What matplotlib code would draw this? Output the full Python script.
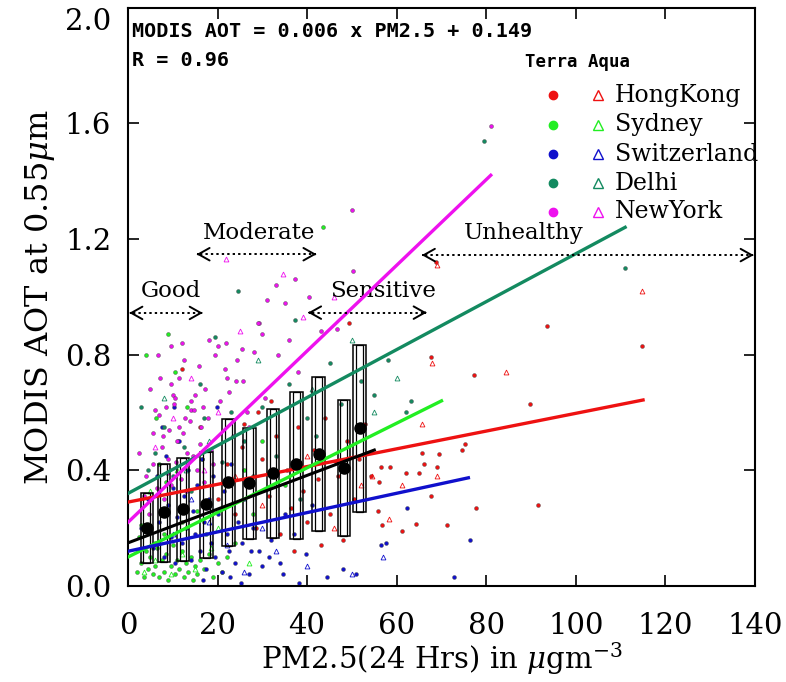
import matplotlib
matplotlib.use("Agg")
import matplotlib.pyplot as plt
from matplotlib.patches import Rectangle

plt.rcParams['font.family'] = 'DejaVu Serif'
plt.rcParams['mathtext.fontset'] = 'dejavuserif'

cities = ["HongKong", "Sydney", "Switzerland", "Delhi", "NewYork"]
colors = ["#ee1111", "#22ee22", "#1010cc", "#138a60", "#ee11ee"]

# Terra points (PM2.5, AOT)
hk_x = [93.6, 114.7, 67.7, 77.2, 89.8, 56.4, 58.5, 62.0, 65.0, 66.0, 69.0, 65.7, 69.4, 74.6, 75.3,
        56.0, 54.2, 55.8, 56.8, 61.2, 64.4, 67.7, 71.3, 77.8, 91.5, 68.7, 49.4, 20.0, 22.0, 24.0,
        25.5, 27.0, 28.5, 30.0, 31.5, 33.0, 34.0, 35.5, 36.5, 38.0, 39.0, 40.0, 41.5, 42.5, 44.0,
        45.0, 46.5, 48.0, 49.0, 50.5, 51.5, 53.0, 12.0, 16.0, 29.0, 43.0, 47.0, 37.0, 26.0, 32.0]
hk_y = [0.90, 0.83, 0.79, 0.73, 0.63, 0.41, 0.41, 0.39, 0.39, 0.42, 0.41, 0.46, 0.455, 0.47, 0.49,
        0.36, 0.38, 0.26, 0.21, 0.19, 0.215, 0.31, 0.21, 0.27, 0.28, 1.12, 0.91, 0.30, 0.42, 0.25,
        0.48, 0.36, 0.20, 0.44, 0.31, 0.52, 0.18, 0.40, 0.27, 0.55, 0.33, 0.22, 0.47, 0.37, 0.58,
        0.25, 0.43, 0.16, 0.50, 0.30, 0.44, 0.56, 0.75, 0.55, 0.60, 0.14, 0.38, 0.12, 0.56, 0.64]

sy_x = [2.0, 2.8, 3.5, 4.0, 4.5, 5.0, 5.5, 6.0, 6.5, 7.0, 7.5, 8.0, 8.5, 9.0, 9.5, 10.0, 10.5,
        11.0, 11.5, 12.0, 12.5, 13.0, 13.5, 14.0, 14.5, 15.0, 15.5, 16.0, 17.0, 18.0, 19.0, 20.0,
        21.0, 22.0, 3.0, 5.0, 6.2, 7.0, 8.5, 9.0, 10.5, 11.2, 13.2, 15.5, 4.0, 6.0, 17.5, 12.0,
        24.0, 26.0, 43.5, 30.0, 8.0, 2.5, 16.5, 28.0, 35.0]
sy_y = [0.05, 0.08, 0.03, 0.12, 0.06, 0.10, 0.04, 0.07, 0.13, 0.03, 0.09, 0.05, 0.11, 0.02, 0.07,
        0.14, 0.04, 0.09, 0.06, 0.12, 0.03, 0.08, 0.05, 0.10, 0.02, 0.07, 0.04, 0.09, 0.06, 0.11,
        0.03, 0.08, 0.05, 0.10, 0.21, 0.30, 0.58, 0.42, 0.36, 0.87, 0.74, 0.50, 0.62, 0.26, 0.80,
        0.15, 0.18, 0.22, 0.15, 0.40, 1.24, 0.50, 0.18, 0.17, 0.44, 0.25, 0.35]

sw_x = [62.2, 57.7, 56.4, 76.3, 72.9, 39.7, 33.9, 38.2, 34.7, 29.3, 31.5, 25.2, 27.0, 44.5, 48.0,
        51.0, 3.0, 4.5, 5.5, 6.5, 7.0, 8.0, 8.5, 9.0, 9.5, 10.0, 10.5, 11.0, 11.5, 12.0, 12.5,
        13.0, 13.5, 14.0, 14.5, 15.0, 15.5, 16.0, 16.5, 17.0, 17.5, 18.0, 18.5, 19.0, 19.5, 20.0,
        21.0, 21.5, 22.0, 22.5, 23.0, 24.0, 24.5, 25.5, 26.0, 27.5, 28.0, 30.0, 32.0, 35.0, 37.0,
        41.0, 10.2, 7.5, 19.8, 16.8, 22.8]
sw_y = [0.27, 0.15, 0.14, 0.16, 0.03, 0.11, 0.08, 0.01, 0.04, 0.12, 0.10, 0.01, 0.04, 0.03, 0.06,
        0.04, 0.20, 0.30, 0.13, 0.38, 0.22, 0.10, 0.45, 0.28, 0.17, 0.34, 0.08, 0.24, 0.50, 0.15,
        0.31, 0.20, 0.40, 0.09, 0.26, 0.18, 0.35, 0.12, 0.44, 0.22, 0.06, 0.30, 0.15, 0.38, 0.10,
        0.25, 0.05, 0.33, 0.18, 0.12, 0.42, 0.08, 0.22, 0.15, 0.30, 0.12, 0.20, 0.07, 0.16, 0.25,
        0.18, 0.28, 0.62, 0.55, 0.62, 0.02, 0.03]

dl_x = [24.6, 37.4, 79.4, 111.0, 3.0, 8.0, 12.5, 17.0, 19.5, 21.0, 26.0, 30.0, 33.0, 36.0, 40.0,
        45.0, 47.5, 52.0, 55.0, 62.0, 10.0, 14.0, 6.0, 28.0, 42.0, 23.0, 16.0, 38.5, 58.0, 4.5, 63.1]
dl_y = [1.02, 0.92, 1.54, 1.10, 0.62, 0.55, 0.48, 0.58, 0.86, 0.43, 0.50, 0.62, 0.45, 0.70, 0.58,
        0.77, 0.63, 0.71, 0.66, 0.60, 0.38, 0.33, 0.46, 0.38, 0.52, 0.60, 0.70, 0.30, 0.78, 0.40, 0.64]

ny_x = [2.5, 4.0, 5.5, 5.6, 6.5, 7.0, 7.1, 7.5, 8.0, 8.5, 9.0, 9.2, 9.6, 9.6, 10.0, 10.3, 10.5,
        11.0, 11.4, 11.8, 12.0, 12.3, 12.8, 13.2, 13.8, 14.0, 14.1, 14.7, 15.0, 15.5, 16.0, 16.4,
        17.0, 17.8, 18.1, 18.5, 19.5, 20.0, 20.5, 21.7, 21.8, 22.2, 22.6, 23.5, 24.1, 24.4, 25.4,
        25.6, 26.5, 28.2, 29.3, 29.9, 31.0, 33.5, 35.0, 38.0, 43.0, 50.0, 81.0, 3.5, 6.0, 8.8,
        11.5, 13.0, 15.8, 17.2, 19.0, 4.8, 7.8, 10.8, 12.5, 14.5, 16.8, 9.5, 6.8, 5.0, 27.0, 30.5,
        36.0, 40.5, 33.0, 29.1, 37.3, 50.2, 46.7]
ny_y = [0.46, 0.38, 0.53, 0.42, 0.34, 0.59, 0.72, 0.48, 0.30, 0.62, 0.44, 0.54, 0.83, 0.70, 0.66,
        0.63, 0.65, 0.50, 0.55, 0.37, 0.84, 0.53, 0.58, 0.46, 0.57, 0.61, 0.64, 0.61, 0.66, 0.40,
        0.49, 0.55, 0.36, 0.58, 0.85, 0.47, 0.80, 0.83, 0.64, 0.75, 0.84, 0.72, 0.67, 0.52, 0.71,
        0.78, 0.82, 0.71, 0.60, 0.81, 0.91, 0.87, 0.99, 0.80, 0.98, 0.74, 0.88, 1.30, 1.59, 0.31,
        0.61, 0.39, 0.72, 0.33, 0.76, 0.68, 0.42, 0.25, 0.52, 0.43, 0.78, 0.45, 0.62, 0.35, 0.80,
        0.68, 0.55, 0.65, 0.85, 1.00, 1.04, 0.91, 1.06, 1.09, 0.89]

# Aqua points
hk_aqua_x = [69.1, 67.9, 54.5, 61.2, 69.0, 58.3, 65.7, 114.7, 84.3, 30.0, 40.0, 46.0, 52.0, 24.0]
hk_aqua_y = [1.11, 0.77, 0.38, 0.35, 0.38, 0.23, 0.56, 1.02, 0.74, 0.28, 0.45, 0.20, 0.35, 0.38]
sy_aqua_x = [3.5, 6.0, 9.5, 12.0, 15.0, 18.5, 5.0, 11.0, 20.0, 27.0]
sy_aqua_y = [0.05, 0.09, 0.04, 0.11, 0.06, 0.13, 0.33, 0.40, 0.20, 0.08]
sw_aqua_x = [14.0, 18.0, 22.0, 26.0, 33.0, 40.0, 50.0, 57.0, 10.0, 30.0]
sw_aqua_y = [0.30, 0.22, 0.14, 0.05, 0.12, 0.07, 0.04, 0.10, 0.18, 0.20]
dl_aqua_x = [8.0, 18.0, 29.0, 41.0, 50.0, 55.0, 60.0, 13.0]
dl_aqua_y = [0.65, 0.50, 0.78, 0.68, 0.85, 0.60, 0.72, 0.40]
ny_aqua_x = [21.8, 34.7, 10.0, 14.0, 20.0, 25.0, 6.0, 17.0, 39.0, 46.0]
ny_aqua_y = [1.13, 1.08, 0.58, 0.72, 0.60, 0.88, 0.48, 0.40, 0.93, 1.00]

# regression line end points per city
fit_x0 = [0, 0, 0, 0, 0]
fit_y0 = [0.29, 0.10, 0.12, 0.32, 0.22]
fit_x1 = [115, 70, 76, 111, 81]
fit_y1 = [0.643, 0.64, 0.374, 1.24, 1.42]

# all-city fit
all_x = [0, 55]
all_y = [0.149, 0.47]

# binned statistics
bin_x = [4.2, 8.0, 12.3, 17.5, 22.4, 27.1, 32.4, 37.6, 42.6, 48.2, 51.7]
bin_mean = [0.199, 0.257, 0.265, 0.282, 0.361, 0.357, 0.392, 0.421, 0.456, 0.407, 0.545]
bin_low = [0.081, 0.084, 0.087, 0.096, 0.138, 0.161, 0.165, 0.161, 0.190, 0.173, 0.257]
bin_high = [0.320, 0.422, 0.441, 0.464, 0.577, 0.545, 0.612, 0.670, 0.723, 0.643, 0.833]

terra_x = [hk_x, sy_x, sw_x, dl_x, ny_x]
terra_y = [hk_y, sy_y, sw_y, dl_y, ny_y]
aqua_x = [hk_aqua_x, sy_aqua_x, sw_aqua_x, dl_aqua_x, ny_aqua_x]
aqua_y = [hk_aqua_y, sy_aqua_y, sw_aqua_y, dl_aqua_y, ny_aqua_y]

fig = plt.figure(figsize=(7.86, 6.82), dpi=100)
ax = fig.add_axes([0.1628, 0.1408, 0.7978, 0.8482])

for i in range(len(cities)):
    ax.plot(terra_x[i], terra_y[i], 'o', color=colors[i], ms=2.8, mec='#444444', mew=0.3, zorder=2)
    ax.plot(aqua_x[i], aqua_y[i], '^', mfc='none', mec=colors[i], ms=3.5, mew=0.6, zorder=2)

# boxes (double outline)
for bx, lo, hi in zip(bin_x, bin_low, bin_high):
    ax.add_patch(Rectangle((bx - 1.4, lo), 2.8, hi - lo, fill=False, ec='k', lw=1.1, zorder=3))
    ax.add_patch(Rectangle((bx - 0.75, lo), 1.5, hi - lo, fill=False, ec='k', lw=0.9, zorder=3))

for i in range(len(cities)):
    ax.plot([fit_x0[i], fit_x1[i]], [fit_y0[i], fit_y1[i]], color=colors[i], lw=2.4, zorder=4)

ax.plot(all_x, all_y, color='k', lw=2.2, zorder=5)
ax.plot(bin_x, bin_mean, 'o', color='k', ms=8, zorder=6, ls='none')


def range_arrow(x0, x1, y):
    ax.plot([x0 + 0.8, x1 - 0.8], [y, y], color='k', ls=(0, (1.2, 1.6)), lw=1.4, zorder=5)
    style = '->,head_length=0.8,head_width=0.45'
    ax.annotate('', xy=(x0, y), xytext=(x0 + 0.4, y),
                arrowprops=dict(arrowstyle=style, lw=1.4, color='k', shrinkA=0, shrinkB=0))
    ax.annotate('', xy=(x1, y), xytext=(x1 - 0.4, y),
                arrowprops=dict(arrowstyle=style, lw=1.4, color='k', shrinkA=0, shrinkB=0))


range_arrow(0.3, 16.7, 0.944)
ax.text(9.6, 1.02, "Good", ha='center', va='center', fontsize=16.5)
range_arrow(15.3, 42.1, 1.147)
ax.text(29.2, 1.219, "Moderate", ha='center', va='center', fontsize=16.5)
range_arrow(40.2, 66.7, 0.945)
ax.text(57.0, 1.02, "Sensitive", ha='center', va='center', fontsize=16.5)
range_arrow(65.6, 139.7, 1.144)
ax.text(88.4, 1.219, "Unhealthy", ha='center', va='center', fontsize=16.5)

# equation
ax.text(0.8, 1.916, "MODIS AOT = 0.006 x PM2.5 + 0.149", fontsize=14.5, fontweight='bold',
        family='DejaVu Sans Mono', ha='left', va='center')
ax.text(0.8, 1.818, "R = 0.96", fontsize=14.5, fontweight='bold',
        family='DejaVu Sans Mono', ha='left', va='center')

# legend
ax.text(100.4, 1.811, "Terra Aqua", fontsize=12.5, fontweight='bold',
        family='DejaVu Sans Mono', ha='center', va='center')
leg_y = [1.697, 1.594, 1.493, 1.393, 1.293]
for i in range(len(cities)):
    ax.plot(94.9, leg_y[i], 'o', color=colors[i], ms=6, zorder=6)
    ax.plot(104.9, leg_y[i], '^', mfc='none', mec=colors[i], ms=7, mew=1.0, zorder=6)
    ax.text(108.7, leg_y[i], cities[i], fontsize=17, ha='left', va='center')

ax.set_xlim(0, 140)
ax.set_ylim(0, 2.0)
ax.set_xticks([0, 20, 40, 60, 80, 100, 120, 140])
ax.set_yticks([0.0, 0.4, 0.8, 1.2, 1.6, 2.0])
ax.set_yticklabels(["0.0", "0.4", "0.8", "1.2", "1.6", "2.0"])
ax.tick_params(direction='in', length=8, width=1.2, top=True, right=True, labelsize=21)
ax.tick_params(axis='x', pad=19)
ax.tick_params(axis='y', pad=12)
ax.get_yticklabels()[-1].set_va('top')
for s in ax.spines.values():
    s.set_linewidth(1.5)

ax.set_xlabel(r"PM2.5(24 Hrs) in $\mu$gm$^{-3}$", fontsize=21, labelpad=0)
ax.set_ylabel(r"MODIS AOT at 0.55$\mu$m", fontsize=23, labelpad=6)

fig.savefig("out.png", dpi=100)
